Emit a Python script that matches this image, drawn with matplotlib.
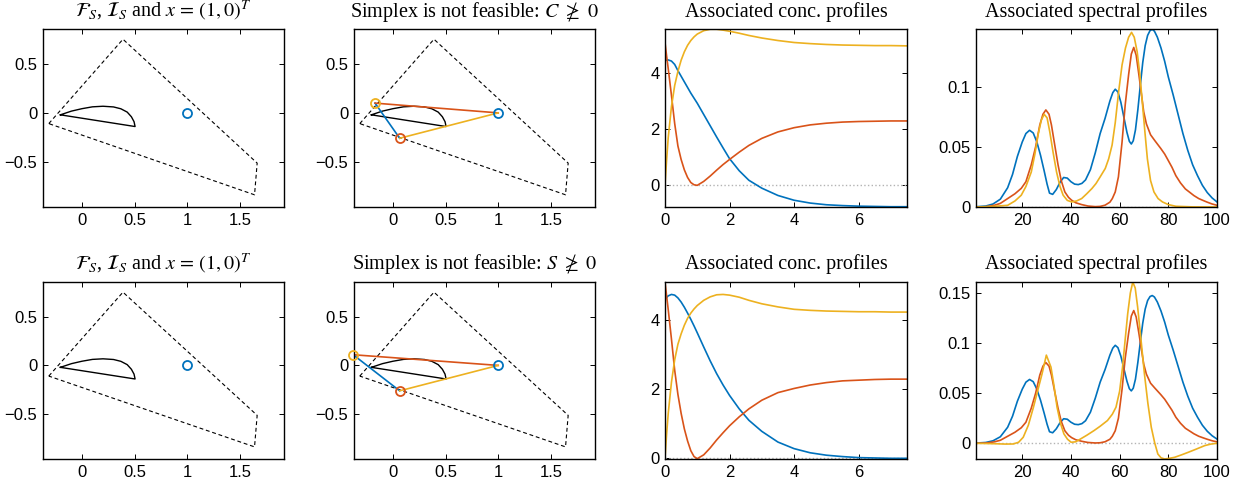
import numpy as np
import matplotlib
matplotlib.use('Agg')
import matplotlib.pyplot as plt

plt.rcParams['font.family'] = ['Liberation Sans', 'DejaVu Sans']
plt.rcParams['mathtext.fontset'] = 'stix'

# colours (MATLAB default order)
c_blue = '#0072BD'
c_red = '#D95319'
c_yel = '#EDB120'

# ---- feasible region / inner set ----
poly_x = [-0.315, 0.39, 1.665, 1.64, -0.315]
poly_y = [-0.11, 0.755, -0.515, -0.84, -0.11]

inner_x = [-0.205, -0.1, 0.0, 0.1, 0.2, 0.3, 0.37, 0.43, 0.47, 0.495, 0.505, -0.205]
inner_y = [-0.02, 0.018, 0.043, 0.062, 0.068, 0.061, 0.042, 0.008, -0.04, -0.09, -0.14, -0.02]

x_point = (1.0, 0.0)

# simplex vertices: (x, y) for the point x, the yellow and the red vertex
simp_C = [(1.0, 0.0), (-0.17, 0.10), (0.064, -0.26)]
simp_S = [(1.0, 0.0), (-0.378, 0.11), (0.064, -0.262)]

# ---- concentration profiles ----
t = [0, 0.05, 0.1, 0.2, 0.3, 0.4, 0.5, 0.6, 0.7, 0.8, 0.9, 1.0, 1.2, 1.4, 1.6, 1.8,
     2.0, 2.3, 2.6, 3.0, 3.5, 4.0, 4.5, 5.0, 5.5, 6.0, 6.5, 7.0, 7.5]

conc1_blue = [4.44, 4.45, 4.46, 4.42, 4.30, 4.08, 3.88, 3.68, 3.48, 3.28, 3.10, 2.92, 2.52,
              2.12, 1.72, 1.33, 0.95, 0.52, 0.18, -0.10, -0.36, -0.53, -0.63, -0.69, -0.72,
              -0.74, -0.75, -0.76, -0.76]
conc1_red = [5.08, 4.6, 4.15, 3.2, 2.2, 1.4, 0.92, 0.55, 0.28, 0.10, 0.02, 0.0, 0.14, 0.33,
             0.54, 0.74, 0.92, 1.18, 1.42, 1.67, 1.90, 2.05, 2.15, 2.21, 2.25, 2.27, 2.28,
             2.29, 2.29]
conc1_yel = [0.02, 0.9, 1.7, 2.8, 3.55, 4.05, 4.45, 4.75, 4.98, 5.15, 5.28, 5.38, 5.50,
             5.55, 5.55, 5.52, 5.48, 5.41, 5.33, 5.24, 5.15, 5.08, 5.04, 5.01, 4.99, 4.98,
             4.97, 4.97, 4.96]

conc2_blue = [4.58, 4.65, 4.70, 4.74, 4.72, 4.64, 4.52, 4.37, 4.20, 4.02, 3.83, 3.63, 3.22,
              2.82, 2.45, 2.12, 1.82, 1.43, 1.10, 0.78, 0.47, 0.28, 0.16, 0.09, 0.05, 0.02,
              0.01, 0.0, 0.0]
conc2_red = [5.10, 4.7, 4.3, 3.45, 2.55, 1.85, 1.30, 0.85, 0.50, 0.22, 0.05, -0.01, 0.10,
             0.30, 0.53, 0.74, 0.94, 1.20, 1.43, 1.68, 1.90, 2.02, 2.12, 2.19, 2.24, 2.26,
             2.28, 2.29, 2.29]
conc2_yel = [0.0, 0.7, 1.3, 2.2, 2.85, 3.3, 3.6, 3.85, 4.05, 4.2, 4.32, 4.42, 4.57, 4.67,
             4.73, 4.74, 4.72, 4.66, 4.57, 4.47, 4.38, 4.31, 4.28, 4.26, 4.25, 4.24, 4.24,
             4.23, 4.23]

# ---- spectral profiles ----
spec_blue_x = [1, 5, 8, 11, 14, 16, 18, 20, 21.5, 23, 24.5, 26, 27.5, 29, 30.2, 31.2, 32.5,
               34, 35.5, 37, 38.5, 40, 41.5, 43, 44.5, 46, 48, 50, 52, 54, 56, 57.2, 58.2,
               59.3, 60.5, 61.8, 63, 64, 64.8, 65.6, 66.5, 67.5, 68.5, 69.5, 70.5, 71.5,
               72.5, 73.4, 74.3, 75.5, 77, 78.5, 80, 82, 84, 86, 88, 90, 92, 94, 96, 98, 100]
spec_blue_y = [0.0002, 0.0008, 0.0025, 0.0065, 0.016, 0.027, 0.042, 0.054, 0.061, 0.0637,
               0.0615, 0.054, 0.043, 0.030, 0.019, 0.0115, 0.0105, 0.0145, 0.0205, 0.0245,
               0.024, 0.021, 0.019, 0.0186, 0.0196, 0.0225, 0.031, 0.045, 0.061, 0.0735,
               0.088, 0.095, 0.0978, 0.0955, 0.087, 0.074, 0.062, 0.0545, 0.0523, 0.055,
               0.064, 0.081, 0.101, 0.12, 0.134, 0.1425, 0.1465, 0.1475, 0.146, 0.141,
               0.132, 0.121, 0.108, 0.093, 0.077, 0.061, 0.047, 0.035, 0.026, 0.018,
               0.012, 0.0075, 0.0042]

spec_red_x = [1, 5, 8.5, 11, 14, 17, 19.6, 21.5, 23.7, 25.5, 27.2, 28.5, 29.7, 31, 32, 33.3,
              34.7, 36, 37.5, 39, 40.3, 42, 44.4, 47, 50, 52, 54, 56, 57, 58.2, 59.5, 61,
              62.3, 63.7, 64.8, 65.8, 66.8, 67.9, 69, 69.9, 71, 72.7, 74.5, 76.9, 78.5,
              79.6, 81.5, 83.1, 85, 87, 88.6, 90.5, 92.5, 94.1, 96, 98, 100]
spec_red_y = [0, 0.0002, 0.0014, 0.003, 0.007, 0.011, 0.0155, 0.021, 0.035, 0.05, 0.068,
              0.077, 0.0806, 0.077, 0.068, 0.052, 0.035, 0.022, 0.0125, 0.008, 0.0056,
              0.0035, 0.002, 0.0008, 0.0003, 0.0005, 0.0015, 0.004, 0.007, 0.0125, 0.025,
              0.054, 0.085, 0.11, 0.127, 0.1325, 0.126, 0.11, 0.093, 0.079, 0.069, 0.06,
              0.055, 0.0486, 0.044, 0.040, 0.033, 0.026, 0.020, 0.015, 0.0125, 0.0095,
              0.007, 0.0056, 0.004, 0.0025, 0.0014]

spec1_yel_x = [1, 8, 14, 17, 19.6, 21.5, 23.7, 25.2, 26.5, 27.8, 29.0, 30.2, 31.3, 32.7,
               34.1, 35.5, 36.8, 38.5, 40.3, 42.3, 44.4, 46.5, 48.6, 50.3, 52, 54.1, 55.5,
               56.9, 58.2, 59.6, 61, 62.4, 63.7, 64.9, 66, 67.2, 68.3, 69.3, 70.4, 71.4,
               72.7, 74.1, 75.8, 77.6, 80, 83.1, 90, 100]
spec1_yel_y = [0, 0.0005, 0.0014, 0.005, 0.0098, 0.017, 0.029, 0.044, 0.06, 0.072, 0.077,
               0.074, 0.0625, 0.045, 0.029, 0.017, 0.0098, 0.0055, 0.0042, 0.005, 0.007,
               0.011, 0.0153, 0.0195, 0.025, 0.032, 0.040, 0.0514, 0.07, 0.0958, 0.118,
               0.132, 0.141, 0.145, 0.141, 0.129, 0.11, 0.0875, 0.062, 0.04, 0.022, 0.0125,
               0.007, 0.0042, 0.002, 0.0006, 0.0001, 0]

spec2_yel_x = [1, 9.4, 13, 16.3, 18.5, 20.4, 22.5, 24.6, 26.5, 28.1, 29.9, 31.8, 33, 34.3,
               35.7, 37.1, 38.6, 40.1, 42, 44, 46.5, 49.5, 52, 55, 57, 58.5, 60, 61.2,
               62.3, 63.3, 64.4, 65.4, 66.4, 67.4, 68.8, 70.2, 71.6, 73, 74.4, 75.7, 77,
               78.5, 80.5, 82.6, 85.5, 88.2, 91.5, 95, 97.5, 100]
spec2_yel_y = [0, -0.0005, -0.0008, -0.0007, 0.001, 0.006, 0.018, 0.036, 0.054, 0.069,
               0.088, 0.076, 0.058, 0.036, 0.02, 0.0094, 0.004, 0.001, 0.0015, 0.0044,
               0.008, 0.0127, 0.017, 0.0227, 0.029, 0.036, 0.052, 0.076, 0.104, 0.129,
               0.150, 0.161, 0.155, 0.136, 0.103, 0.069, 0.040, 0.016, 0.0005, -0.0107,
               -0.0145, -0.0157, -0.015, -0.014, -0.0115, -0.009, -0.0058, -0.0023,
               -0.0008, 0]

# ---- layout (figure fractions) ----
W, H = 1246, 488
cols_px = [(43, 284), (354, 595), (665, 907), (976, 1217)]
rows_px = [(29, 207), (282, 459)]

fig = plt.figure(figsize=(W / 100, H / 100), dpi=100)

def make_ax(r, c):
    x0, x1 = cols_px[c]
    y0, y1 = rows_px[r]
    ax = fig.add_axes([x0 / W, 1 - y1 / H, (x1 - x0) / W, (y1 - y0) / H])
    ax.tick_params(direction='in', top=True, right=True, length=3.5, width=0.7,
                   labelsize=12, pad=4)
    for s in ax.spines.values():
        s.set_linewidth(1.0)
    return ax

def set_title(ax, txt):
    ax.set_title(txt, fontsize=14.5, family='Liberation Serif', pad=9)

def draw_region(ax):
    ax.plot(poly_x, poly_y, color='k', lw=0.8, dashes=(3.5, 2.5))
    ax.plot(inner_x, inner_y, color='k', lw=1.0)
    ax.set_xlim(-0.37, 1.92)
    ax.set_ylim(-0.965, 0.86)
    ax.set_xticks([0, 0.5, 1, 1.5])
    ax.set_xticklabels(['0', '0.5', '1', '1.5'])
    ax.set_yticks([-0.5, 0, 0.5])
    ax.set_yticklabels(['\u22120.5', '0', '0.5'])

def mark(ax, p, col):
    ax.plot(p[0], p[1], 'o', mfc='none', mec=col, ms=6.5, mew=1.3, clip_on=False,
            zorder=5)

def draw_simplex(ax, verts):
    p0, p1, p2 = verts
    ax.plot([p1[0], p2[0]], [p1[1], p2[1]], color=c_blue, lw=1.2)
    ax.plot([p0[0], p1[0]], [p0[1], p1[1]], color=c_red, lw=1.2)
    ax.plot([p0[0], p2[0]], [p0[1], p2[1]], color=c_yel, lw=1.2)
    for p, col in zip(verts, [c_blue, c_yel, c_red]):
        mark(ax, p, col)

def draw_conc(ax, b, r, y, ylim):
    ax.axhline(0, color='0.7', lw=1.0, ls=':')
    ax.plot(t, b, color=c_blue, lw=1.2)
    ax.plot(t, r, color=c_red, lw=1.2)
    ax.plot(t, y, color=c_yel, lw=1.2)
    ax.set_xlim(0, 7.5)
    ax.set_ylim(*ylim)
    ax.set_xticks([0, 2, 4, 6])
    ax.set_yticks([0, 2, 4])

def draw_spec(ax, yx, yy, ylim, yticks, ylabels):
    ax.axhline(0, color='0.7', lw=1.0, ls=':')
    ax.plot(spec_blue_x, spec_blue_y, color=c_blue, lw=1.2)
    ax.plot(spec_red_x, spec_red_y, color=c_red, lw=1.2)
    ax.plot(yx, yy, color=c_yel, lw=1.2)
    ax.set_xlim(1, 100)
    ax.set_ylim(*ylim)
    ax.set_xticks([20, 40, 60, 80, 100])
    ax.set_yticks(yticks)
    ax.set_yticklabels(ylabels)

region_title = r'$\mathcal{F}_S$, $\mathcal{I}_S$ and $x\,=\,(1,0)^T$'

# row 1
ax = make_ax(0, 0)
draw_region(ax)
mark(ax, x_point, c_blue)
set_title(ax, region_title)

ax = make_ax(0, 1)
draw_region(ax)
draw_simplex(ax, simp_C)
set_title(ax, r'Simplex is not feasible: $C\ \ngeq\ 0$')

ax = make_ax(0, 2)
draw_conc(ax, conc1_blue, conc1_red, conc1_yel, (-0.77, 5.56))
set_title(ax, 'Associated conc. profiles')

ax = make_ax(0, 3)
draw_spec(ax, spec1_yel_x, spec1_yel_y, (0, 0.1478), [0, 0.05, 0.1], ['0', '0.05', '0.1'])
set_title(ax, 'Associated spectral profiles')

# row 2
ax = make_ax(1, 0)
draw_region(ax)
mark(ax, x_point, c_blue)
set_title(ax, region_title)

ax = make_ax(1, 1)
draw_region(ax)
draw_simplex(ax, simp_S)
set_title(ax, r'Simplex is not feasible: $S\ \ngeq\ 0$')

ax = make_ax(1, 2)
draw_conc(ax, conc2_blue, conc2_red, conc2_yel, (-0.02, 5.1))
set_title(ax, 'Associated conc. profiles')

ax = make_ax(1, 3)
draw_spec(ax, spec2_yel_x, spec2_yel_y, (-0.0157, 0.161), [0, 0.05, 0.1, 0.15],
          ['0', '0.05', '0.1', '0.15'])
set_title(ax, 'Associated spectral profiles')

fig.savefig('out.png', dpi=100)
